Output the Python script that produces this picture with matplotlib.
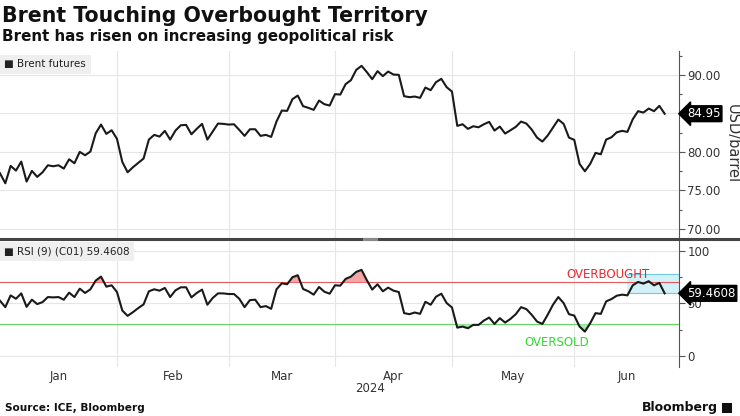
import matplotlib
matplotlib.use("Agg")
import matplotlib.pyplot as plt
import numpy as np
from matplotlib.patches import Rectangle
from matplotlib.lines import Line2D
from matplotlib.ticker import FixedLocator, FuncFormatter

plt.rcParams["font.family"] = ["DejaVu Sans"]

# ---------------- data ----------------
# Brent futures daily closes, one value per trading day (29 Dec 2023 .. 25 Jun 2024)
brent = [77.21, 75.91, 78.17, 77.56, 78.73, 76.13, 77.52, 76.74, 77.34, 78.25,
         78.12, 78.25, 77.82, 79.03, 78.51, 79.99, 79.55, 80.03, 82.41, 83.54,
         82.33, 82.80, 81.68, 78.69, 77.34, 77.99, 78.56, 79.12, 81.59, 82.20,
         81.98, 82.72, 81.59, 82.76, 83.45, 83.50, 82.28, 82.98, 83.63, 81.59,
         82.63, 83.67, 83.63, 83.54, 83.58, 82.85, 82.07, 82.93, 82.93, 82.07,
         82.20, 81.94, 83.93, 85.36, 85.32, 86.84, 87.31, 85.93, 85.71, 85.45,
         86.66, 86.19, 86.01, 87.49, 87.44, 88.79, 89.31, 90.65, 91.17, 90.35,
         89.44, 90.48, 89.83, 90.43, 90.04, 90.00, 87.23, 87.10, 87.18, 87.01,
         88.35, 88.01, 89.05, 89.48, 88.40, 87.83, 83.37, 83.58, 82.98, 83.32,
         83.19, 83.58, 83.89, 82.76, 83.28, 82.37, 82.80, 83.24, 83.93, 83.67,
         82.89, 81.85, 81.33, 82.11, 83.15, 84.19, 83.63, 81.85, 81.55, 78.43,
         77.47, 78.43, 79.86, 79.68, 81.59, 81.89, 82.54, 82.72, 82.59, 84.23,
         85.28, 85.10, 85.62, 85.28, 85.97, 84.95]

# RSI (9) values, same trading days
rsi = [52.4, 46.3, 57.5, 54.3, 59.4, 46.6, 53.4, 49.2, 51.1, 55.9,
       55.6, 55.9, 53.4, 60.1, 55.9, 63.9, 59.8, 63.3, 71.6, 75.4,
       65.8, 67.1, 60.7, 43.1, 38.0, 41.5, 45.4, 48.9, 61.4, 63.3,
       62.0, 64.6, 55.9, 62.3, 65.2, 65.2, 55.6, 59.8, 63.0, 48.6,
       55.0, 59.4, 59.4, 58.8, 58.8, 54.3, 46.3, 53.0, 53.4, 46.3,
       47.3, 44.7, 63.3, 69.0, 68.1, 74.8, 76.7, 63.6, 61.4, 58.2,
       65.5, 61.0, 59.1, 67.1, 66.8, 73.2, 75.4, 79.9, 81.8, 71.9,
       63.0, 68.1, 61.4, 64.9, 62.0, 60.7, 40.6, 39.6, 41.2, 39.9,
       51.4, 48.6, 56.2, 59.1, 50.2, 46.0, 26.8, 27.8, 26.2, 29.4,
       29.4, 33.5, 36.4, 30.3, 35.8, 31.6, 35.1, 39.6, 46.3, 44.4,
       39.0, 32.6, 30.3, 39.0, 48.6, 55.9, 50.2, 39.6, 38.3, 27.8,
       23.0, 31.0, 40.6, 39.9, 51.8, 54.0, 57.2, 58.2, 57.5, 67.1,
       70.3, 68.7, 71.0, 67.1, 69.4, 59.4608]

month_labels = ["Jan", "Feb", "Mar", "Apr", "May", "Jun"]
# index of the last trading day of each month (Dec..May)
month_end_idx = [0, 22, 43, 63, 85, 108]
year_label = "2024"

last_price = 84.95
last_rsi = 59.4608
overbought = 70
oversold = 30
highlight_start = 118        # start of recent RSI highlight band
highlight_top = 77.6

brent = np.array(brent)
rsi = np.array(rsi)
idx = np.arange(len(brent))

# ---------------- layout ----------------
W, H = 740, 416
def fx(x): return x / W
def fy(y): return 1 - y / H

fig = plt.figure(figsize=(7.4, 4.16), dpi=100)
fig.patch.set_facecolor("white")

x_right = 679
ax1 = fig.add_axes([0, fy(238), fx(x_right), (238 - 51) / H])
ax2 = fig.add_axes([0, fy(367), fx(x_right), (367 - 239) / H])

xmax = 127.7
grid_c = "#e6e6e6"
line_c = "#1a1a1a"
tick_c = "#333333"

for ax in (ax1, ax2):
    ax.set_xlim(0, xmax)
    for s in ("top", "left", "bottom"):
        ax.spines[s].set_visible(False)
    ax.spines["right"].set_color("#555555")
    ax.spines["right"].set_linewidth(0.8)
    ax.yaxis.tick_right()
    ax.set_xticks(month_end_idx[1:])
    ax.tick_params(axis="x", length=0, labelbottom=False)
    ax.grid(True, which="major", color=grid_c, lw=0.8)
    ax.set_axisbelow(True)
    ax.tick_params(axis="y", which="major", direction="out", length=4, width=0.8,
                   color="#555555", labelsize=8.5, labelcolor=tick_c, pad=2)
    ax.tick_params(axis="y", which="minor", direction="out", length=2.5, width=0.8,
                   color="#555555")

def px_to_axes(x):
    return x / x_right

# ---- top panel: Brent ----
ax1.set_ylim(68.8, 93.1)
ax1.set_yticks([70, 75, 80, 85, 90])
ax1.yaxis.set_minor_locator(FixedLocator([72.5, 77.5, 82.5, 87.5, 92.5]))
ax1.yaxis.set_major_formatter(FuncFormatter(lambda v, p: f"{v:.2f}"))
ax1.plot(idx, brent, color=line_c, lw=1.5, solid_joinstyle="round", zorder=3)

ax1.text(px_to_axes(687), last_price, f"{last_price:.2f}",
         transform=ax1.get_yaxis_transform(), ha="left", va="center",
         color="white", fontsize=8.5,
         bbox=dict(boxstyle="larrow,pad=0.12", fc="black", ec="black"), zorder=5,
         clip_on=False)
fig.text(fx(732), fy(144), "USD/barrel", rotation=270, ha="center", va="center",
         fontsize=10.5, color=tick_c)

ax1.text(0.006, 0.955, "\u25a0 Brent futures", transform=ax1.transAxes,
         ha="left", va="top", fontsize=7.5, color="#222222",
         bbox=dict(boxstyle="square,pad=0.45", fc="#efefef", ec="none"))

# ---- bottom panel: RSI ----
ax2.set_ylim(-10.7, 111.2)
ax2.set_yticks([0, 50, 100])
ax2.yaxis.set_minor_locator(FixedLocator([25, 75]))
ax2.yaxis.set_major_formatter(FuncFormatter(lambda v, p: f"{v:.0f}"))

ax2.add_patch(Rectangle((highlight_start, last_rsi), xmax - highlight_start,
                        highlight_top - last_rsi, fc="#d3f1f8", ec="none", zorder=1))
ax2.plot([highlight_start, xmax], [highlight_top, highlight_top], color="#6fcbe0", lw=0.8, zorder=1.5)
ax2.plot([highlight_start, xmax], [last_rsi, last_rsi], color="#6fcbe0", lw=0.8, zorder=1.5)

ax2.axhline(overbought, color="#e5585c", lw=0.8, zorder=2)
ax2.axhline(oversold, color="#62d862", lw=0.8, zorder=2)
ax2.fill_between(idx, rsi, overbought, where=rsi > overbought, interpolate=True,
                 color="#f4a5a5", lw=0, zorder=2)
ax2.fill_between(idx, rsi, oversold, where=rsi < oversold, interpolate=True,
                 color="#a6eaa6", lw=0, zorder=2)
ax2.plot(idx, rsi, color=line_c, lw=1.5, solid_joinstyle="round", zorder=3)

ax2.text(114.3, 77.5, "OVERBOUGHT", ha="center", va="center", color="#e8272e",
         fontsize=8.5, zorder=4)
ax2.text(104.7, 13.1, "OVERSOLD", ha="center", va="center", color="#2fd92f",
         fontsize=8.5, zorder=4)

ax2.text(px_to_axes(687), last_rsi, f"{last_rsi:.4f}",
         transform=ax2.get_yaxis_transform(), ha="left", va="center",
         color="white", fontsize=8.5,
         bbox=dict(boxstyle="larrow,pad=0.12", fc="black", ec="black"), zorder=5,
         clip_on=False)

ax2.text(0.006, 0.94, "\u25a0 RSI (9) (C01) " + f"{last_rsi:.4f}", transform=ax2.transAxes,
         ha="left", va="top", fontsize=7.5, color="#222222",
         bbox=dict(boxstyle="square,pad=0.45", fc="#efefef", ec="none"))

# month labels (centred between month boundaries)
bounds = month_end_idx + [xmax]
centers = [(bounds[i] + bounds[i + 1]) / 2 for i in range(len(month_labels))]
ax2.set_xticks(centers, minor=True)
ax2.set_xticklabels(month_labels, minor=True)
ax2.tick_params(axis="x", which="minor", length=0, labelbottom=True,
                labelsize=8.5, labelcolor=tick_c, pad=2)
fig.text(fx(370), fy(389), year_label, ha="center", va="center", fontsize=8.5, color=tick_c)

# separator between the panels
fig.add_artist(Line2D([0, 1], [fy(238.5), fy(238.5)], color="#444444", lw=2.2))
fig.add_artist(Line2D([fx(364), fx(376)], [fy(238.5), fy(238.5)], color="#8a8a8a", lw=2.2))

# titles
fig.text(fx(2), fy(16), "Brent Touching Overbought Territory", ha="left", va="center",
         fontsize=14.8, fontweight="bold", color="#111111")
fig.text(fx(2), fy(37), "Brent has risen on increasing geopolitical risk", ha="left",
         va="center", fontsize=10.9, fontweight="bold", color="#111111")

# footer
fig.text(fx(5), fy(408), "Source: ICE, Bloomberg", ha="left", va="center",
         fontsize=7.6, fontweight="bold", color="#111111")
fig.text(fx(718), fy(408), "Bloomberg", ha="right", va="center",
         fontsize=9, fontweight="bold", color="#111111")
fig.patches.append(Rectangle((fx(722), fy(413)), fx(10), 10 / H, transform=fig.transFigure,
                             fc="#111111", ec="none"))

fig.savefig("out.png", dpi=100)
